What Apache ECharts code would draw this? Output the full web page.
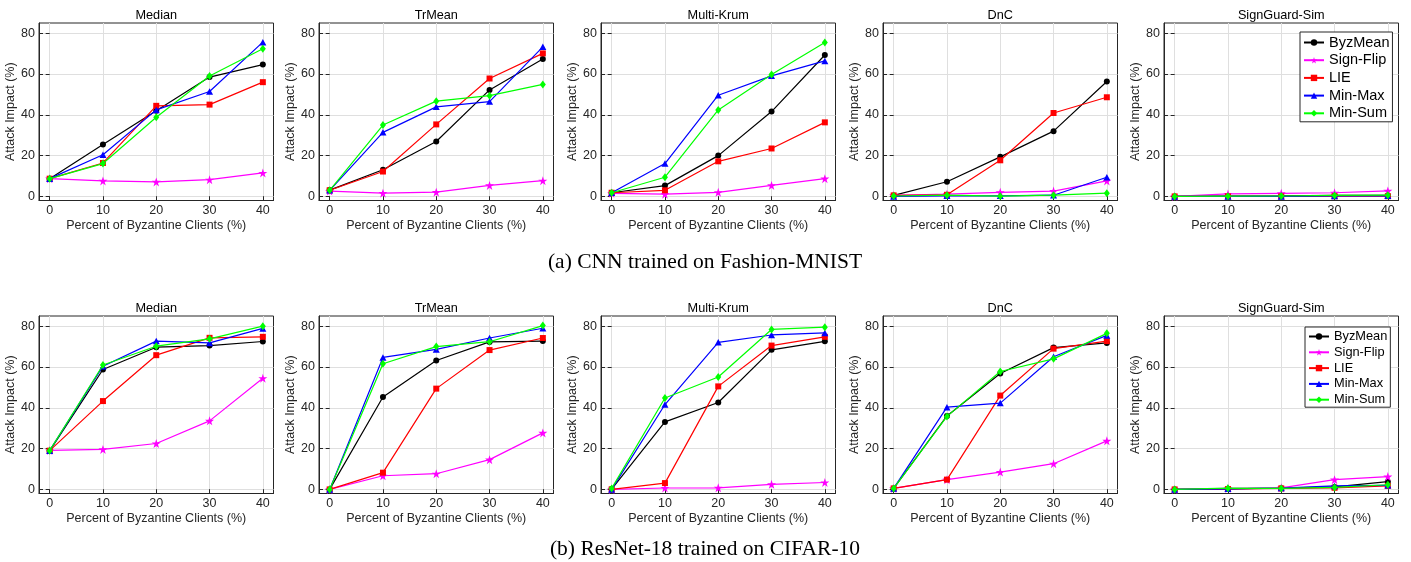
<!DOCTYPE html>
<html>
<head>
<meta charset="utf-8">
<title>Attack Impact</title>
<script src="https://cdn.jsdelivr.net/npm/echarts@6/dist/echarts.min.js"></script>
<style>
html, body { margin: 0; padding: 0; background: #fff; }
#main { width: 1411px; height: 562px; }
</style>
</head>
<body>
<div id="main"></div>
<script>
var xTicks = [0, 10, 20, 30, 40];
var yTicks = [0, 20, 40, 60, 80];
var attacks = ['ByzMean', 'Sign-Flip', 'LIE', 'Min-Max', 'Min-Sum'];
var defenses = ['Median', 'TrMean', 'Multi-Krum', 'DnC', 'SignGuard-Sim'];
var captions = ['(a) CNN trained on Fashion-MNIST', '(b) ResNet-18 trained on CIFAR-10'];

// (a) CNN / Fashion-MNIST, one row per attack (same order as attacks)
var fmnistMedian = [
  [8.7, 25.5, 42.0, 58.5, 64.6],
  [8.7, 7.6, 7.1, 8.2, 11.5],
  [8.7, 16.4, 44.4, 45.0, 56.0],
  [8.7, 20.4, 42.4, 51.4, 75.6],
  [8.7, 16.1, 38.8, 59.0, 72.4]
];
var fmnistTrMean = [
  [3.1, 13.1, 26.9, 52.2, 67.4],
  [2.6, 1.6, 2.1, 5.4, 7.7],
  [3.0, 12.2, 35.3, 57.8, 70.1],
  [3.0, 31.4, 43.9, 46.5, 73.3],
  [3.0, 35.0, 46.7, 49.4, 54.9]
];
var fmnistKrum = [
  [1.8, 5.3, 20.0, 41.6, 69.3],
  [1.5, 1.1, 2.0, 5.4, 8.7],
  [1.8, 3.0, 17.2, 23.5, 36.3],
  [1.8, 16.1, 49.6, 59.1, 66.4],
  [1.8, 9.4, 42.4, 59.8, 75.4]
];
var fmnistDnC = [
  [0.5, 7.2, 19.4, 32.0, 56.3],
  [0.5, 1.1, 2.0, 2.6, 7.6],
  [0.5, 0.8, 17.7, 40.9, 48.6],
  [0.0, 0.3, 0.3, 0.6, 9.4],
  [0.2, 0.6, 0.1, 0.6, 1.6]
];
var fmnistSignGuard = [
  [0.0, 0.2, 0.3, 0.5, 0.5],
  [0.0, 1.2, 1.5, 1.8, 2.7],
  [0.0, 0.0, 0.0, 0.1, 0.1],
  [0.0, 0.0, 0.0, 0.2, 0.3],
  [0.0, 0.1, 0.2, 0.5, 0.6]
];

// (b) ResNet-18 / CIFAR-10
var cifarMedian = [
  [18.9, 58.8, 69.7, 70.5, 72.5],
  [19.1, 19.6, 22.5, 33.6, 54.5],
  [19.0, 43.3, 65.8, 74.3, 74.8],
  [19.0, 60.4, 72.7, 71.8, 78.9],
  [19.0, 61.0, 70.2, 73.8, 80.0]
];
var cifarTrMean = [
  [0.0, 45.3, 63.2, 72.3, 72.7],
  [0.0, 6.7, 7.7, 14.6, 27.7],
  [0.0, 8.2, 49.4, 68.3, 74.2],
  [0.0, 64.7, 68.6, 74.2, 79.0],
  [0.0, 61.6, 70.0, 72.4, 80.3]
];
var cifarKrum = [
  [0.2, 33.1, 42.6, 68.4, 72.6],
  [0.0, 0.7, 0.8, 2.5, 3.4],
  [0.0, 3.1, 50.5, 70.5, 74.8],
  [0.0, 41.6, 72.1, 75.7, 76.7],
  [0.5, 44.8, 55.1, 78.4, 79.5]
];
var cifarDnC = [
  [0.5, 36.0, 56.8, 69.5, 71.8],
  [0.5, 4.8, 8.5, 12.6, 23.8],
  [0.5, 4.8, 46.0, 69.0, 72.7],
  [0.5, 40.3, 42.3, 65.0, 75.5],
  [0.5, 35.8, 57.8, 64.0, 76.5]
];
var cifarSignGuard = [
  [0.0, 0.3, 0.6, 1.2, 3.8],
  [0.0, 0.5, 0.8, 4.8, 6.3],
  [0.0, 0.2, 0.5, 0.8, 1.7],
  [0.0, 0.3, 0.7, 1.7, 2.0],
  [0.0, 0.6, 0.5, 1.0, 2.3]
];

var panels = [
  fmnistMedian, fmnistTrMean, fmnistKrum, fmnistDnC, fmnistSignGuard,
  cifarMedian, cifarTrMean, cifarKrum, cifarDnC, cifarSignGuard
];

// styling
var colors = ['#000000', '#ff00ff', '#ff0000', '#0000ff', '#00ff00'];
var star = 'path://M50 0 L61.23 34.55 L97.55 34.55 L68.16 55.9 L79.39 90.45 L50 69.1 L20.61 90.45 L31.84 55.9 L2.45 34.55 L38.77 34.55 Z';
var symbols = ['circle', star, 'rect', 'triangle', 'diamond'];
var symbolSizes = [6, 9, 6, [7, 6.5], [6, 8]];
var font = 'Liberation Sans, Arial, sans-serif';
var serif = 'Liberation Serif, Times New Roman, serif';
var axisColor = '#262626';
var gridColor = '#dfdfdf';

var gridLefts = [39, 319, 601, 883, 1164];
var gridTops = [23, 316];
var gridW = 234.5;
var gridH = 177.5;

var grids = [], xAxes = [], yAxes = [], series = [], graphics = [];

for (var k = 0; k < panels.length; k++) {
  var row = Math.floor(k / 5);
  var col = k % 5;
  grids.push({
    left: gridLefts[col], top: gridTops[row], width: gridW, height: gridH,
    show: true, borderColor: axisColor, borderWidth: 1, backgroundColor: '#fff',
    containLabel: false, outerBoundsMode: 'none'
  });

  // bottom / left axes carry labels, top / right only mirror the ticks
  xAxes.push({
    gridIndex: k, type: 'value', min: -2, max: 42, position: 'bottom',
    axisLine: { show: true, onZero: false, lineStyle: { color: axisColor, width: 1 } },
    axisTick: { show: true, inside: true, length: 4, customValues: xTicks, lineStyle: { color: axisColor } },
    axisLabel: { show: true, customValues: xTicks, margin: 4, color: axisColor, fontSize: 12.5, fontFamily: font },
    splitLine: { show: true, lineStyle: { color: gridColor, width: 1 } },
    name: 'Percent of Byzantine Clients (%)', nameLocation: 'middle', nameGap: 19,
    nameTextStyle: { color: axisColor, fontSize: 12.5, fontFamily: font }
  });
  xAxes.push({
    gridIndex: k, type: 'value', min: -2, max: 42, position: 'top',
    axisLine: { show: false },
    axisTick: { show: true, inside: true, length: 4, customValues: xTicks, lineStyle: { color: axisColor } },
    axisLabel: { show: false },
    splitLine: { show: false }
  });
  yAxes.push({
    gridIndex: k, type: 'value', min: -2, max: 85, position: 'left',
    axisLine: { show: true, onZero: false, lineStyle: { color: axisColor, width: 1 } },
    axisTick: { show: true, inside: true, length: 4, customValues: yTicks, lineStyle: { color: axisColor } },
    axisLabel: { show: true, customValues: yTicks, margin: 4, color: axisColor, fontSize: 12.5, fontFamily: font },
    splitLine: { show: true, lineStyle: { color: gridColor, width: 1 } },
    name: 'Attack Impact (%)', nameLocation: 'middle', nameGap: 16,
    nameTextStyle: { color: axisColor, fontSize: 12.5, fontFamily: font }
  });
  yAxes.push({
    gridIndex: k, type: 'value', min: -2, max: 85, position: 'right',
    axisLine: { show: false },
    axisTick: { show: true, inside: true, length: 4, customValues: yTicks, lineStyle: { color: axisColor } },
    axisLabel: { show: false },
    splitLine: { show: false }
  });

  for (var a = 0; a < attacks.length; a++) {
    var vals = panels[k][a];
    series.push({
      name: attacks[a], type: 'line',
      xAxisIndex: 2 * k, yAxisIndex: 2 * k,
      data: xTicks.map(function (x, i) { return [x, vals[i]]; }),
      symbol: symbols[a], symbolSize: symbolSizes[a], showAllSymbol: true,
      lineStyle: { color: colors[a], width: 1.2 },
      itemStyle: { color: colors[a] },
      emphasis: { disabled: true },
      animation: false, z: 3 + a
    });
  }

  graphics.push({
    type: 'text', x: gridLefts[col] + gridW / 2, y: gridTops[row] - 8,
    style: { text: defenses[col], align: 'center', verticalAlign: 'middle', fill: '#000', fontSize: 12.7, fontFamily: font }
  });
}

graphics.push({
  type: 'text', x: 705, y: 262,
  style: { text: captions[0], align: 'center', verticalAlign: 'middle', fill: '#000', fontSize: 21.5, fontFamily: serif }
});
graphics.push({
  type: 'text', x: 705, y: 549,
  style: { text: captions[1], align: 'center', verticalAlign: 'middle', fill: '#000', fontSize: 21.5, fontFamily: serif }
});

var legendBase = {
  orient: 'vertical', data: attacks, itemWidth: 20, itemHeight: 8,
  backgroundColor: '#fff', borderColor: axisColor, borderWidth: 1,
  selectedMode: false
};

var chart = echarts.init(document.getElementById('main'), null, { renderer: 'canvas' });
var option = {
  animation: false,
  backgroundColor: '#fff',
  grid: grids,
  xAxis: xAxes,
  yAxis: yAxes,
  series: series,
  legend: [
    Object.assign({}, legendBase, {
      left: 1300, top: 32, itemGap: 2.7, padding: [3, 3, 1, 3],
      textStyle: { color: '#000', fontSize: 14.5, fontFamily: font }
    }),
    Object.assign({}, legendBase, {
      left: 1305, top: 327, itemGap: 2.8, padding: [3, 3, 1, 3],
      textStyle: { color: '#000', fontSize: 12.8, fontFamily: font }
    })
  ],
  graphic: graphics
};
chart.setOption(option);
</script>
</body>
</html>
